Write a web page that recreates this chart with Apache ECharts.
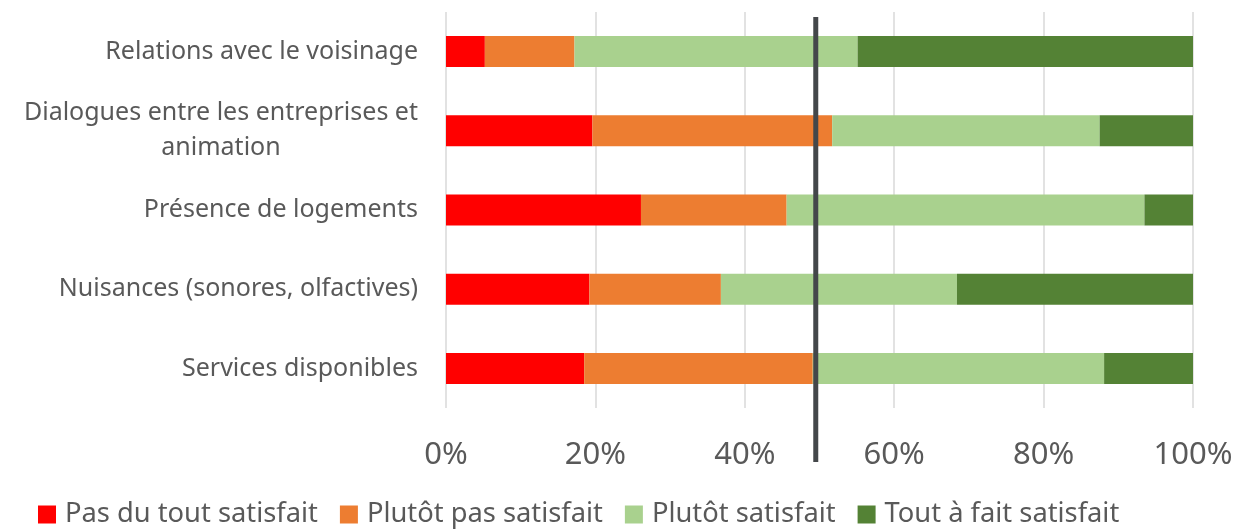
<!DOCTYPE html>
<html lang="fr">
<head>
    <meta charset="UTF-8">
    <title>Satisfaction</title>
    <style>
        html, body { margin: 0; padding: 0; background: #fff; }
    </style>
</head>
<body>
    <div id="chart" style="width:1237px; height:530px"></div>

    <script src="https://cdn.jsdelivr.net/npm/echarts@6/dist/echarts.min.js"></script>
    <script>
        // données (en %)
        const categories = [
            'Relations avec le voisinage',
            'Dialogues entre les entreprises et\nanimation',
            'Présence de logements',
            'Nuisances (sonores, olfactives)',
            'Services disponibles'
        ];
        const seriesNames = ['Pas du tout satisfait', 'Plutôt pas satisfait', 'Plutôt satisfait', 'Tout à fait satisfait'];
        const pasDuTout = [5.2, 19.6, 26.1, 19.2, 18.5];
        const plutotPas = [12.0, 32.1, 19.5, 17.6, 30.6];
        const plutotSat = [37.9, 35.8, 47.9, 31.6, 39.0];
        const toutAFait = [44.9, 12.5, 6.5, 31.6, 11.9];
        const tickValues = [0, 20, 40, 60, 80, 100];
        const refValue = 49.5;   // trait vertical noir

        const colors = ['#ff0000', '#ed7d31', '#a9d18e', '#548235'];
        const txt = '#595959';
        const font = 'Noto Sans';

        const chart = echarts.init(document.getElementById('chart'));

        chart.setOption({
            animation: false,
            grid: { left: 446, right: 44, top: 12, height: 396 },
            legend: {
                left: 33,
                top: 496,
                icon: 'rect',
                itemWidth: 18,
                itemHeight: 18,
                itemGap: 22,
                textStyle: { color: txt, fontSize: 27.3, fontFamily: font, padding: [0, 0, 0, 4] },
                data: seriesNames
            },
            xAxis: {
                type: 'value',
                min: 0,
                max: 100,
                interval: 20,
                axisLine: { show: false },
                axisTick: { show: false },
                splitLine: { lineStyle: { color: '#d9d9d9', width: 1.5 } },
                axisLabel: {
                    color: txt,
                    fontSize: 31,
                    fontFamily: font,
                    margin: 32,
                    formatter: v => tickValues.includes(v) ? v + '%' : ''
                }
            },
            yAxis: {
                type: 'category',
                inverse: true,
                data: categories,
                axisLine: { show: false },
                axisTick: { show: false },
                axisLabel: {
                    color: txt,
                    fontSize: 25,
                    fontFamily: font,
                    margin: 28,
                    lineHeight: 35,
                    formatter: v => v.split('\n').map(s => '{c|' + s + '}').join('\n'),
                    rich: {
                        c: { align: 'center', color: txt, fontSize: 25, fontFamily: font, lineHeight: 35 }
                    }
                }
            },
            series: [pasDuTout, plutotPas, plutotSat, toutAFait].map((vals, i) => ({
                name: seriesNames[i],
                type: 'bar',
                stack: 'total',
                barWidth: 31,
                itemStyle: { color: colors[i] },
                data: vals
            }))
        });

        // trait vertical de référence, placé via l'échelle de l'axe x
        const xRef = chart.convertToPixel({ xAxisIndex: 0 }, refValue);
        chart.setOption({
            graphic: [{
                type: 'line',
                shape: { x1: xRef, y1: 17, x2: xRef, y2: 462 },
                style: { stroke: '#44474a', lineWidth: 5 },
                z: 100
            }]
        });
    </script>
</body>
</html>
